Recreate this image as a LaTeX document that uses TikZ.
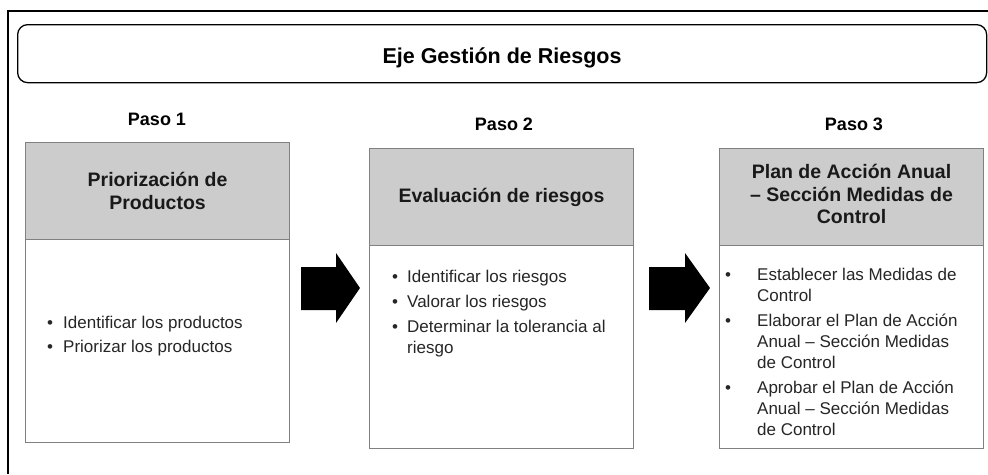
\documentclass[tikz,border=0pt]{standalone}
\usepackage{fontspec}
\setmainfont{Liberation Sans}
\usetikzlibrary{calc}
\definecolor{hdrfill}{HTML}{CCCCCC}
\definecolor{boxline}{HTML}{808080}
\definecolor{bodytxt}{HTML}{262626}
\begin{document}
\begin{tikzpicture}[x=1pt,y=-1pt,
  frameline/.style={line width=2pt,draw=black},
  ejebox/.style={draw=black,line width=1.3pt,rounded corners=10pt,anchor=north west,inner sep=0pt,minimum width=969pt,minimum height=58pt},
  titletext/.style={anchor=base,inner sep=0pt,font=\bfseries\fontsize{21.5}{24}\selectfont,text=black},
  pasolabel/.style={anchor=base,inner sep=0pt,font=\bfseries\fontsize{18}{21}\selectfont,text=black},
  hdrbox/.style={draw=boxline,fill=hdrfill,line width=1.1pt,minimum width=264pt,minimum height=97pt,anchor=north west,inner sep=0pt},
  bodybox/.style={draw=boxline,fill=white,line width=1.1pt,minimum width=264pt,minimum height=203pt,anchor=north west,inner sep=0pt},
  hdrtext/.style={align=center,inner sep=0pt,font=\bfseries\fontsize{19.5}{22.5}\selectfont,text=black!90},
  listtext/.style={anchor=base west,inner sep=0pt,align=left,font=\fontsize{17}{21}\selectfont,text=bodytxt},
  blockarrow/.style={fill=black,draw=none}
]
\useasboundingbox (0,0) rectangle (988,474);
\fill[white] (0,0) rectangle (988,474);

% outer frame
\coordinate (fbl) at (8,474);
\coordinate (ftl) at (8,11);
\coordinate (ftr) at (988,11);
\draw[frameline] (fbl) -- (ftl) -- (ftr);

% title box
\node[ejebox] (eje) at (17,24) {};
\node[titletext] (title) at (502,63) {Eje Gestión de Riesgos};

% step labels
\node[pasolabel] (p1) at (157,125) {Paso 1};
\node[pasolabel] (p2) at (504,130) {Paso 2};
\node[pasolabel] (p3) at (854,130) {Paso 3};

% boxes
\node[hdrbox] (h1) at (25,142) {};
\node[bodybox] (b1) at (25,239) {};
\node[hdrbox] (h2) at (369,148) {};
\node[bodybox] (b2) at (369,245) {};
\node[hdrbox] (h3) at (719,148) {};
\node[bodybox] (b3) at (719,245) {};

% header texts
\node[hdrtext] (t1) at (h1.center) {Priorización de\\Productos};
\node[hdrtext] (t2) at ($(h2.center)+(0,0.5)$) {Evaluación de riesgos};
\node[hdrtext] (t3) at ($(h3.center)+(0,-3)$) {Plan de Acción Anual\\– Sección Medidas de\\Control};

% lists
\node[listtext] (l1) at (47,328) {\begin{tabular}[t]{@{}p{16pt}@{}l@{}}
• & Identificar los productos\\[3pt]
• & Priorizar los productos
\end{tabular}};

\node[listtext] (l2) at (392,282) {\begin{tabular}[t]{@{}p{15pt}@{}l@{}}
• & Identificar los riesgos\\[4pt]
• & Valorar los riesgos\\[4pt]
• & Determinar la tolerancia al\\
  & riesgo
\end{tabular}};

\node[listtext] (l3) at (725,280) {\begin{tabular}[t]{@{}p{32pt}@{}l@{}}
• & Establecer las Medidas de\\
  & Control\\[4pt]
• & Elaborar el Plan de Acción\\
  & Anual – Sección Medidas\\
  & de Control\\[4pt]
• & Aprobar el Plan de Acción\\
  & Anual – Sección Medidas\\
  & de Control
\end{tabular}};

% block arrows
\fill[blockarrow] (301,267) -- (336,267) -- (336,253) -- (360,288) -- (336,323) -- (336,310) -- (301,310) -- cycle;
\fill[blockarrow] (649,267) -- (685,267) -- (685,253) -- (710,288) -- (685,323) -- (685,310) -- (649,310) -- cycle;
\end{tikzpicture}
\end{document}
